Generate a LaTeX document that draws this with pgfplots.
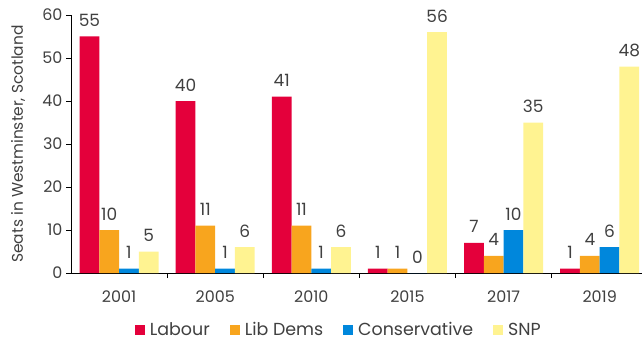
\documentclass[border=0pt]{standalone}
\usepackage{pgfplots}
\pgfplotsset{compat=1.18}
\usepackage{fontspec}
\setmainfont{Poppins}
\definecolor{lab}{RGB}{228,0,59}
\definecolor{lib}{RGB}{248,165,30}
\definecolor{con}{RGB}{0,135,220}
\definecolor{snp}{RGB}{255,243,145}
\definecolor{txt}{RGB}{64,64,64}
\begin{document}
\begin{tikzpicture}[x=1bp,y=1bp]
\useasboundingbox (0,0) rectangle (642,341);
\begin{axis}[
  at={(71bp,68bp)}, anchor=south west,
  scale only axis, width=571bp, height=258bp,
  xmin=-0.5, xmax=5.44, ymin=0, ymax=60,
  axis x line=bottom, axis y line=left,
  axis line style={black, thick, -},
  ybar=0pt, bar width=19.75bp,
  xtick={0,...,5},
  xticklabels={2001,2005,2010,2015,2017,2019},
  major x tick style={draw=none},
  minor xtick={0.5,1.5,2.5,3.5,4.5},
  minor tick length=5bp,
  minor x tick style={black, thick},
  ytick={0,10,...,60},
  major tick length=5bp,
  tick align=outside,
  y tick style={black, thick},
  /pgf/number format/assume math mode=true,
  tick label style={font=\fontsize{16}{19}\selectfont, text=txt},
  xticklabel style={yshift=-9bp},
  ylabel={Seats in Westminster, Scotland},
  ylabel style={font=\fontsize{15.5}{18}\selectfont, text=txt, at={(axis description cs:0,0.5)}, anchor=center, yshift=53bp},
  nodes near coords,
  every node near coord/.append style={font=\fontsize{17}{20}\selectfont, text=txt, anchor=base, yshift=10bp},
  legend style={at={(0.469,0)}, anchor=center, yshift=-57bp, draw=none, font=\fontsize{17.5}{20}\selectfont, text=txt, inner sep=0pt,
    /tikz/every odd column/.append style={column sep=3bp},
    /tikz/every even column/.append style={column sep=18bp}},
  legend columns=-1,
  legend image code/.code={\fill[#1] (0bp,-5bp) rectangle (10bp,5bp);},
  clip=false,
]
\addplot[fill=lab, draw=none] coordinates {(0,55) (1,40) (2,41) (3,1) (4,7) (5,1)};
\addplot[fill=lib, draw=none] coordinates {(0,10) (1,11) (2,11) (3,1) (4,4) (5,4)};
\addplot[fill=con, draw=none] coordinates {(0,1) (1,1) (2,1) (3,0) (4,10) (5,6)};
\addplot[fill=snp, draw=none] coordinates {(0,5) (1,6) (2,6) (3,56) (4,35) (5,48)};
\legend{Labour, Lib Dems, Conservative, SNP}
\end{axis}
\end{tikzpicture}
\end{document}
